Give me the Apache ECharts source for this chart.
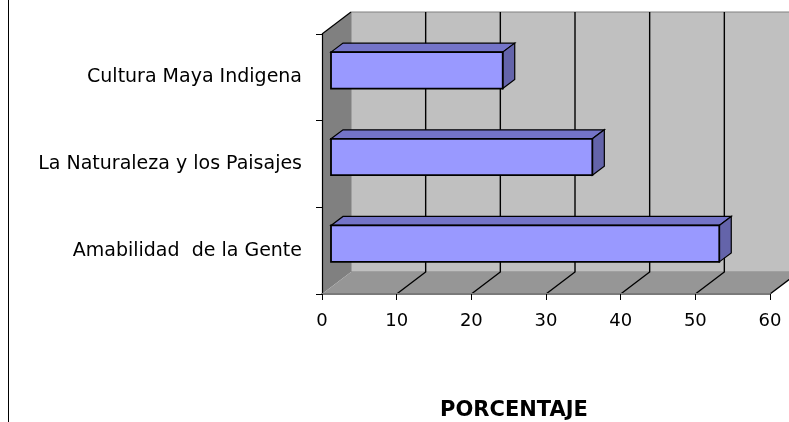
<!DOCTYPE html>
<html>
<head>
<meta charset="utf-8">
<script src="https://cdn.jsdelivr.net/npm/echarts@6/dist/echarts.min.js"></script>
<style>
  html, body { margin: 0; padding: 0; background: #fff; }
  #chart { width: 789px; height: 422px; }
</style>
</head>
<body>
<div id="chart"></div>
<script>
// categories bottom -> top (category axis starts at the bottom)
const categories = ["Amabilidad  de la Gente", "La Naturaleza y los Paisajes", "Cultura Maya Indigena"];
const values = [52, 35, 23];
const xTicks = [0, 10, 20, 30, 40, 50, 60];
const axisTitle = "PORCENTAJE";

// 3d look: depth offset of the back wall, and of the bars
const DX = 29, DY = -22;
const BAR_X = 9, BAR_Y = -7;
const BAR_DX = 12, BAR_DY = -9;
const FONT = "DejaVu Sans";

const chart = echarts.init(document.getElementById("chart"));

function renderWalls(params, api) {
  const cs = params.coordSys;
  const top = cs.y, bot = cs.y + cs.height;
  const xa = api.coord([xTicks[0], 0])[0];
  const xb = api.coord([xTicks[xTicks.length - 1], 0])[0];
  return {
    type: "group",
    children: [
      {
        type: "polygon",
        shape: { points: [[xa + DX, top + DY], [xb + DX, top + DY], [xb + DX, bot + DY], [xa + DX, bot + DY]] },
        style: { fill: "#c0c0c0", stroke: "#808080", lineWidth: 1 },
      },
      {
        type: "polygon",
        shape: { points: [[xa, top], [xa + DX, top + DY], [xa + DX, bot + DY], [xa, bot]] },
        style: { fill: "#808080" },
      },
      {
        type: "polygon",
        shape: { points: [[xa, bot], [xa + DX, bot + DY], [xb + DX, bot + DY], [xb, bot]] },
        style: { fill: "#969696" },
      },
      {
        type: "line",
        shape: { x1: xa, y1: top, x2: xa + DX, y2: top + DY },
        style: { stroke: "#000", lineWidth: 1.2 },
      },
    ],
  };
}

function renderGridLine(params, api) {
  const cs = params.coordSys;
  const top = cs.y, bot = cs.y + cs.height;
  const x = api.coord([api.value(0), 0])[0];
  return {
    type: "polyline",
    shape: { points: [[x, bot], [x + DX, bot + DY], [x + DX, top + DY]] },
    style: { stroke: "#000", lineWidth: 1.4, fill: null },
  };
}

function renderBar(params, api) {
  const p0 = api.coord([0, api.value(1)]);
  const p1 = api.coord([api.value(0), api.value(1)]);
  const h = api.size([0, 1])[1] * 0.42;
  const x0 = p0[0] + BAR_X, x1 = p1[0] + BAR_X;
  const yc = p0[1] + BAR_Y;
  const y0 = yc - h / 2, y1 = yc + h / 2;
  return {
    type: "group",
    children: [
      {
        type: "polygon",
        shape: { points: [[x0, y0], [x0 + BAR_DX, y0 + BAR_DY], [x1 + BAR_DX, y0 + BAR_DY], [x1, y0]] },
        style: { fill: "#7474c8", stroke: "#000", lineWidth: 1.2 },
      },
      {
        type: "polygon",
        shape: { points: [[x1, y0], [x1 + BAR_DX, y0 + BAR_DY], [x1 + BAR_DX, y1 + BAR_DY], [x1, y1]] },
        style: { fill: "#6464aa", stroke: "#000", lineWidth: 1.2 },
      },
      {
        type: "rect",
        shape: { x: x0, y: y0, width: x1 - x0, height: y1 - y0 },
        style: { fill: "#9999ff", stroke: "#000", lineWidth: 1.8 },
      },
    ],
  };
}

chart.setOption({
  backgroundColor: "#ffffff",
  animation: false,
  grid: { left: 322, right: 19, top: 34, bottom: 128 },
  xAxis: {
    type: "value",
    min: 0,
    max: 60,
    interval: 10,
    axisLine: { show: true, lineStyle: { color: "#7a7a7a", width: 2 } },
    axisTick: { show: true, length: 6, lineStyle: { color: "#000" } },
    axisLabel: { color: "#000", fontFamily: FONT, fontSize: 18, margin: 18 },
    splitLine: { show: false },
  },
  yAxis: {
    type: "category",
    data: categories,
    axisLine: { show: true, lineStyle: { color: "#000", width: 1.2 } },
    axisTick: { show: true, length: 6, lineStyle: { color: "#000" } },
    axisLabel: { color: "#000", fontFamily: FONT, fontSize: 19, margin: 20 },
    splitLine: { show: false },
  },
  graphic: [
    {
      type: "line",
      shape: { x1: 8.5, y1: 0, x2: 8.5, y2: 422 },
      style: { stroke: "#000", lineWidth: 1 },
    },
    {
      type: "text",
      x: 514,
      y: 411,
      style: {
        text: axisTitle,
        fill: "#000",
        font: "bold 21px 'DejaVu Sans'",
        align: "center",
        verticalAlign: "middle",
      },
    },
  ],
  series: [
    {
      type: "custom",
      z: -2,
      renderItem: renderWalls,
      data: [[xTicks[0], 0]],
    },
    {
      type: "custom",
      z: -1,
      renderItem: renderGridLine,
      data: xTicks.slice(1).map((v) => [v, 0]),
    },
    {
      type: "custom",
      z: 2,
      renderItem: renderBar,
      data: values.map((v, i) => [v, i]),
    },
  ],
});
</script>
</body>
</html>
